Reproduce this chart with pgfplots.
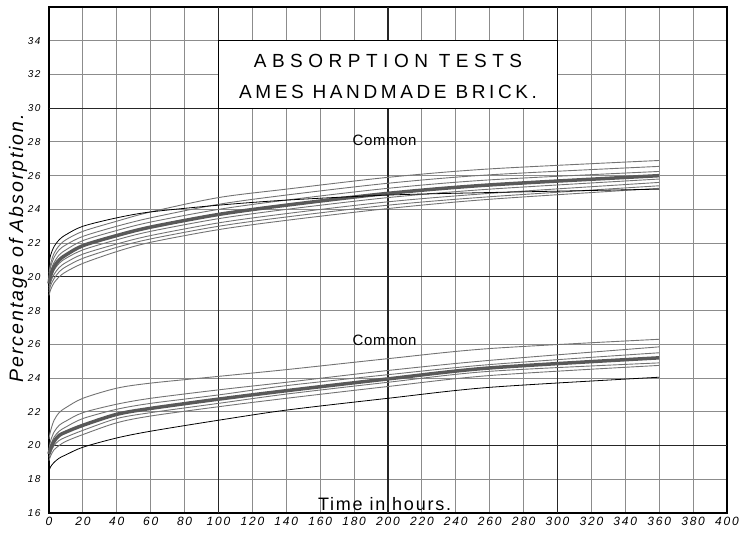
\documentclass[border=0pt]{standalone}
\usepackage{fontspec}
\setmainfont{Liberation Sans}
\newfontfamily\ttlA{Liberation Sans}[LetterSpace=29]
\newfontfamily\ttlB{Liberation Sans}[LetterSpace=19]
\newfontfamily\cmnf{Liberation Sans}[LetterSpace=4]
\newfontfamily\labf{Liberation Sans}[LetterSpace=10]
\newfontfamily\tickf{Liberation Sans}[LetterSpace=15]
\usepackage{pgfplots}
\usepackage{pgfplotstable}
\pgfplotsset{compat=1.18}

% upper panel ("Common", read on the upper scale 20-28)
\pgfplotstableread{
t   A     B     C     D     E     F     G     H     I
0   20.8  20.2  20.0  19.8  19.6  19.4  19.25 19.1  18.9
1   21.3  20.8  20.6  20.35 20.1  19.9  19.7  19.5  19.25
3   21.8  21.4  21.15 20.85 20.6  20.4  20.15 19.9  19.65
6   22.2  21.85 21.6  21.3  21.0  20.8  20.55 20.3  20.0
10  22.5  22.2  21.9  21.6  21.3  21.1  20.85 20.6  20.3
20  23.0  22.7  22.4  22.15 21.85 21.6  21.35 21.1  20.8
40  23.5  23.3  23.0  22.75 22.45 22.2  21.95 21.75 21.5
60  23.85 23.85 23.5  23.25 22.95 22.7  22.45 22.25 22.05
100 24.25 24.7  24.3  24.0  23.7  23.45 23.2  23.0  22.8
140 24.55 25.2  24.85 24.55 24.25 24.0  23.75 23.55 23.35
200 24.85 25.9  25.55 25.25 24.95 24.7  24.45 24.25 24.05
260 25.0  26.4  26.05 25.75 25.45 25.2  24.95 24.75 24.6
360 25.2  26.9  26.55 26.25 26.0  25.8  25.6  25.4  25.25
}\toptab

% lower panel ("Common", lower scale 16-30)
\pgfplotstableread{
t   P     Q     R     S     T     U     V
0   20.4  19.8  19.6  19.5  19.3  19.1  18.5
1   20.9  20.3  20.0  19.85 19.6  19.4  18.75
3   21.5  20.8  20.5  20.25 20.0  19.75 19.0
6   21.95 21.2  20.85 20.6  20.3  20.0  19.25
10  22.25 21.45 21.1  20.8  20.5  20.25 19.45
20  22.8  21.95 21.6  21.2  20.9  20.65 19.9
40  23.4  22.45 22.15 21.85 21.6  21.35 20.45
60  23.7  22.8  22.5  22.2  21.95 21.75 20.85
100 24.1  23.3  23.0  22.75 22.5  22.3  21.5
140 24.5  23.75 23.55 23.25 23.05 22.8  22.1
200 25.15 24.45 24.2  23.95 23.75 23.5  22.8
260 25.75 25.05 24.8  24.6  24.4  24.15 23.45
360 26.3  25.85 25.5  25.2  24.9  24.75 24.05
}\bottab

\begin{document}
\begin{tikzpicture}
\begin{axis}[
  name=ax, at={(0,0)}, anchor=south west,
  width=678pt, height=506pt, scale only axis,
  xmin=0, xmax=400, ymin=16, ymax=46,
  xtick={0,20,...,400},
  ytick={16,18,...,44},
  yticklabels={16,18,20,22,24,26,28,20,22,24,26,28,30,32,34},
  grid=major,
  major grid style={black!45, line width=0.9pt},
  major tick length=0pt,
  axis line style={black, line width=1.1pt},
  /pgf/number format/assume math mode=true,
  xticklabel style={font=\tickf\itshape\fontsize{12}{12}\selectfont, yshift=-1pt},
  yticklabel style={font=\tickf\itshape\fontsize{10}{10}\selectfont, xshift=-5pt},
  clip=false,
  every axis plot/.append style={smooth, tension=0.5, no marks},
]
% heavier ruling
\foreach \xx in {100,200,300} {
  \edef\tmp{\noexpand\draw[black!85, line width=1.1pt] (axis cs:\xx,16) -- (axis cs:\xx,46);}\tmp
}
\foreach \yy in {20,30,40} {
  \edef\tmp{\noexpand\draw[black!85, line width=1.1pt] (axis cs:0,\yy) -- (axis cs:400,\yy);}\tmp
}
% title box
\fill[white] (axis cs:100,40) rectangle (axis cs:300,44);
\draw[black, line width=1.1pt] (axis cs:100,40) rectangle (axis cs:300,44);
\node[font=\ttlA\fontsize{19}{19}\selectfont, anchor=base] at (axis cs:200,42.44) {ABSORPTION TESTS};
\node[font=\ttlB\fontsize{19}{19}\selectfont, anchor=base] at (axis cs:200,40.6) {AMES HANDMADE BRICK.};
\node[font=\cmnf\fontsize{15}{15}\selectfont, anchor=base] at (axis cs:198,37.8) {Common};
\node[font=\cmnf\fontsize{15}{15}\selectfont, anchor=base] at (axis cs:198,25.95) {Common};
\node[font=\labf\fontsize{18}{18}\selectfont, anchor=base] at (axis cs:198,16.15) {Time in hours.};
\node[font=\labf\itshape\fontsize{19.5}{19.5}\selectfont, rotate=90] at ([xshift=-31pt]axis cs:0,31.7) {Percentage of Absorption.};

% upper group (plotted 10 units higher on the sheet)
\addplot[black!55, line width=0.9pt] table[x=t, y expr=\thisrow{B}+10] {\toptab};
\addplot[black!55, line width=0.9pt] table[x=t, y expr=\thisrow{C}+10] {\toptab};
\addplot[black!55, line width=0.9pt] table[x=t, y expr=\thisrow{D}+10] {\toptab};
\addplot[black!55, line width=0.9pt] table[x=t, y expr=\thisrow{F}+10] {\toptab};
\addplot[black!55, line width=0.9pt] table[x=t, y expr=\thisrow{G}+10] {\toptab};
\addplot[black!55, line width=0.9pt] table[x=t, y expr=\thisrow{H}+10] {\toptab};
\addplot[black!55, line width=0.9pt] table[x=t, y expr=\thisrow{I}+10] {\toptab};
\addplot[black!65, line width=3.5pt] table[x=t, y expr=\thisrow{E}+10] {\toptab};
\addplot[black, line width=0.8pt] table[x=t, y expr=\thisrow{A}+10] {\toptab};

% lower group
\addplot[black!55, line width=0.9pt] table[x=t, y=P] {\bottab};
\addplot[black!55, line width=0.9pt] table[x=t, y=Q] {\bottab};
\addplot[black!55, line width=0.9pt] table[x=t, y=R] {\bottab};
\addplot[black!55, line width=0.9pt] table[x=t, y=T] {\bottab};
\addplot[black!55, line width=0.9pt] table[x=t, y=U] {\bottab};
\addplot[black!65, line width=3.5pt] table[x=t, y=S] {\bottab};
\addplot[black, line width=0.8pt] table[x=t, y=V] {\bottab};
\end{axis}
\pgfresetboundingbox
\path ([shift={(-49pt,-21pt)}]ax.south west) rectangle ([shift={(12pt,7pt)}]ax.north east);
\end{tikzpicture}
\end{document}
